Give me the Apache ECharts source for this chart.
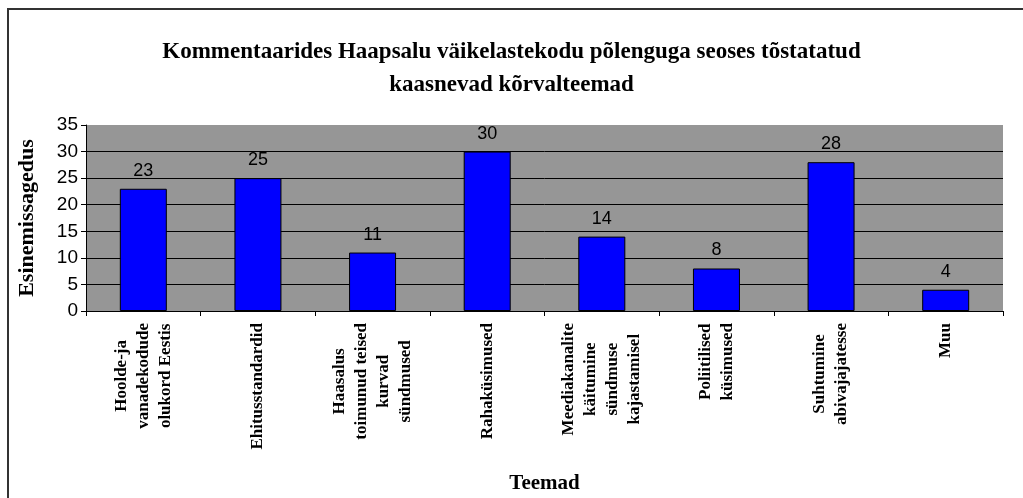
<!DOCTYPE html>
<html>
<head>
<meta charset="utf-8">
<script src="https://cdn.jsdelivr.net/npm/echarts@6/dist/echarts.min.js"></script>
<style>
  html, body { margin: 0; padding: 0; background: #fff; }
  #chart { width: 1023px; height: 498px; }
</style>
</head>
<body>
<div id="chart"></div>
<script>
var titleText = 'Kommentaarides Haapsalu väikelastekodu põlenguga seoses tõstatatud\nkaasnevad kõrvalteemad';
var categories = [
    'Hoolde-ja\nvanadekodude\nolukord Eestis',
    'Ehitusstandardid',
    'Haasalus\ntoimunud teised\nkurvad\nsündmused',
    'Rahaküsimused',
    'Meediakanalite\nkäitumine\nsündmuse\nkajastamisel',
    'Poliitilised\nküsimused',
    'Suhtumine\nabivajajatesse',
    'Muu'
];
var counts = [23, 25, 11, 30, 14, 8, 28, 4];
var yTicks = [0, 5, 10, 15, 20, 25, 30, 35];

var chart = echarts.init(document.getElementById('chart'));

// every line of a label centred within its block
function centerLines(v) {
    return v.split('\n').map(function(s) { return '{c|' + s + '}'; }).join('\n');
}

var option = {
    animation: false,
    backgroundColor: '#fff',
    graphic: [{
        type: 'rect',
        shape: { x: 8, y: 9, width: 1200, height: 600 },
        style: { fill: 'none', stroke: '#333', lineWidth: 2 },
        silent: true
    }],
    title: {
        text: titleText,
        left: 'center',
        top: 31,
        textStyle: {
            fontFamily: 'Liberation Serif',
            fontWeight: 'bold',
            fontSize: 23,
            lineHeight: 33,
            color: '#000'
        }
    },
    grid: { left: 86, right: 20, top: 125, bottom: 187, containLabel: false, outerBoundsMode: 'none' },
    xAxis: {
        type: 'category',
        data: categories,
        name: 'Teemad',
        nameLocation: 'middle',
        nameGap: 162,
        nameTextStyle: { fontFamily: 'Liberation Serif', fontWeight: 'bold', fontSize: 21, color: '#000' },
        axisLine: { lineStyle: { color: '#000', width: 1 } },
        axisTick: { show: true, length: 5, lineStyle: { color: '#000' } },
        axisLabel: {
            interval: 0,
            rotate: 90,
            margin: 12,
            formatter: centerLines,
            fontFamily: 'Liberation Serif',
            fontWeight: 'bold',
            fontSize: 17,
            lineHeight: 22,
            color: '#000',
            rich: {
                c: {
                    align: 'center',
                    fontFamily: 'Liberation Serif',
                    fontWeight: 'bold',
                    fontSize: 17,
                    lineHeight: 22,
                    color: '#000'
                }
            }
        }
    },
    yAxis: {
        type: 'value',
        min: yTicks[0],
        max: yTicks[yTicks.length - 1],
        interval: 5,
        name: 'Esinemissagedus',
        nameLocation: 'middle',
        nameGap: 48,
        nameTextStyle: { fontFamily: 'Liberation Serif', fontWeight: 'bold', fontSize: 22, color: '#000' },
        axisLine: { show: true, lineStyle: { color: '#000', width: 1 } },
        axisTick: { show: true, length: 5, lineStyle: { color: '#000' } },
        axisLabel: { fontFamily: 'Liberation Sans', fontSize: 19, color: '#000', margin: 8 },
        splitLine: {
            show: true,
            lineStyle: { color: ['#000', '#000', '#000', '#000', '#000', '#000', '#000', '#969696'], width: 1 }
        },
        splitArea: { show: true, areaStyle: { color: ['#969696'] } }
    },
    series: [{
        type: 'bar',
        data: counts,
        barWidth: 47,
        itemStyle: { color: '#0000ff', borderColor: '#000', borderWidth: 1 },
        label: {
            show: true,
            position: 'top',
            distance: 9,
            fontFamily: 'Liberation Sans',
            fontSize: 18,
            color: '#000'
        }
    }]
};

chart.setOption(option);
</script>
</body>
</html>
